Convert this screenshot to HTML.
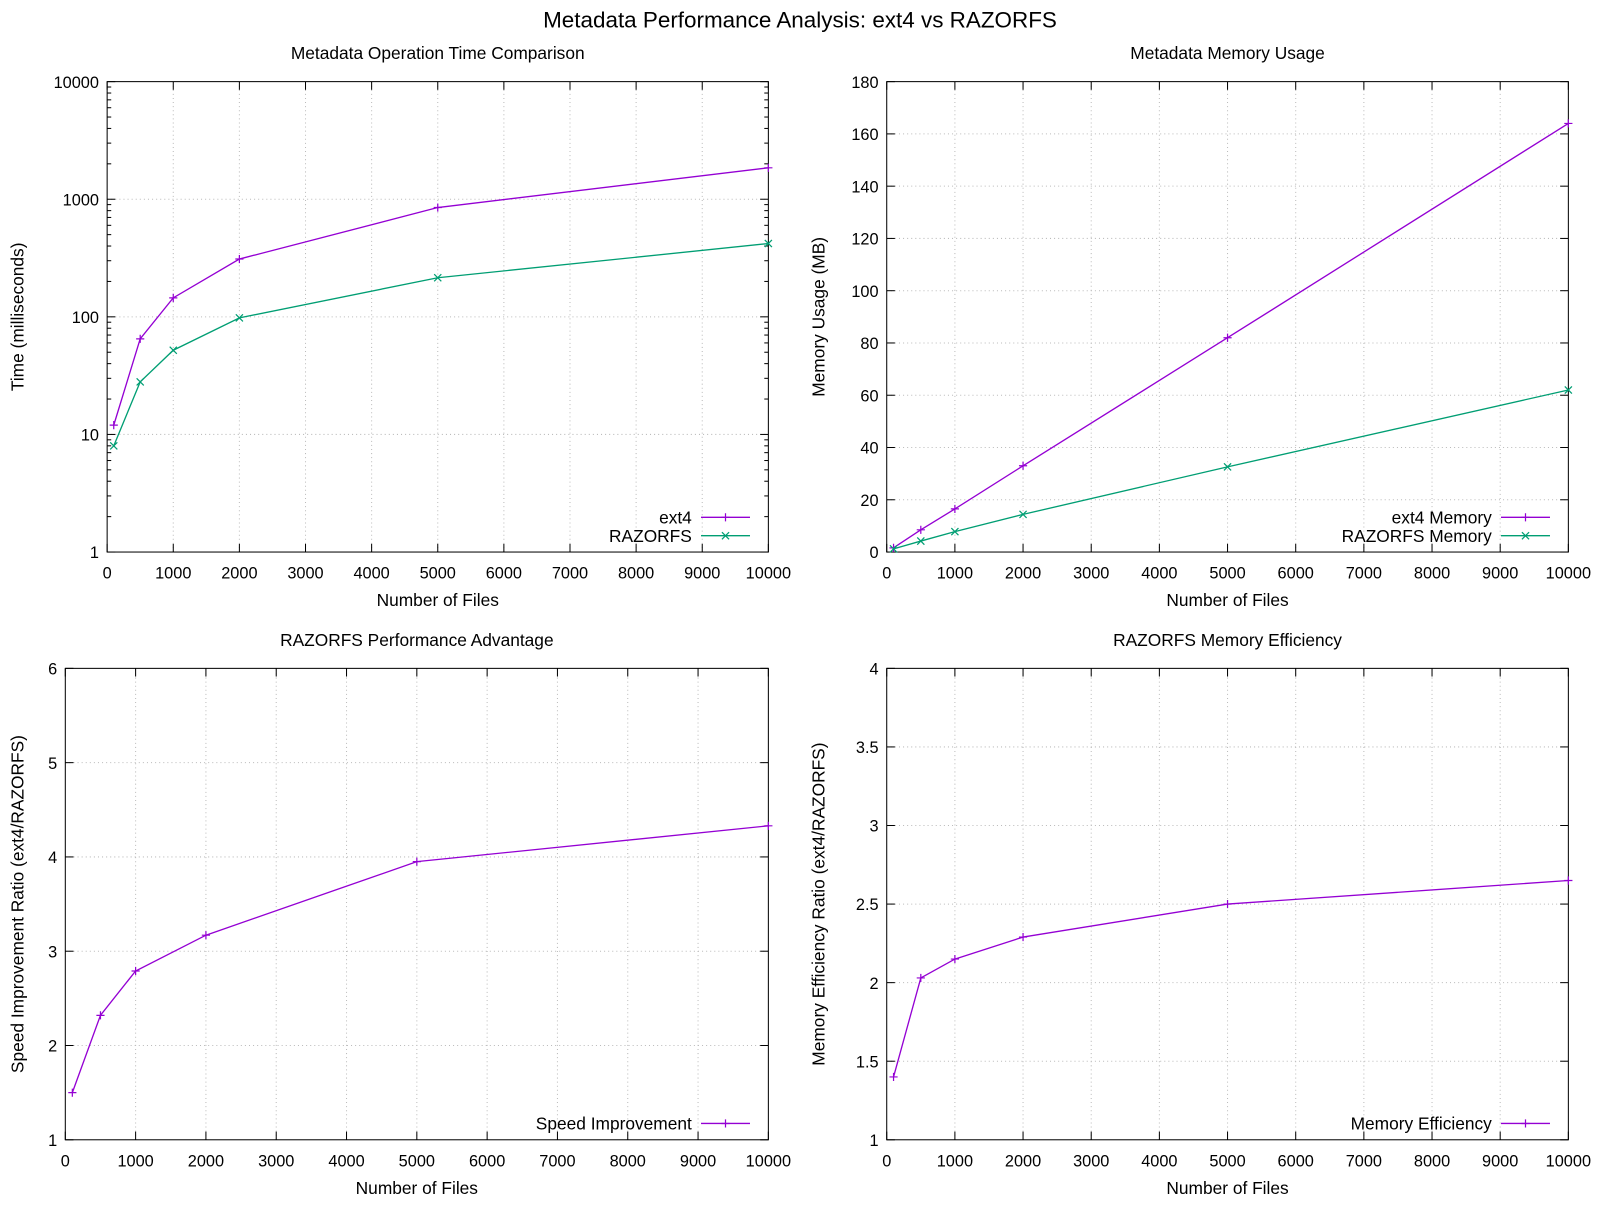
<!DOCTYPE html>
<html><head><meta charset="utf-8"><style>
body{margin:0;background:#fff}
svg text{font-family:"Liberation Sans",sans-serif;fill:#000}
</style></head><body>
<svg width="1600" height="1200" xmlns="http://www.w3.org/2000/svg">
<rect width="1600" height="1200" fill="#fff"/>
<g id="s" transform="scale(1.0204)">
<text x="784" y="27" font-size="22" text-anchor="middle">Metadata Performance Analysis: ext4 vs RAZORFS</text>
</g>
</svg>
<script>
const files=[100,500,1000,2000,5000,10000];
const ext4Time=[12,65,145,310,850,1850];
const razorTime=[8,28,52,98,215,420];
const ext4Mem=[1.6,8.5,16.5,33,82,164];
const razorMem=[1.2,4.2,7.8,14.4,32.6,62];
const speedRatio=[1.5,2.32,2.79,3.17,3.95,4.33];
const memRatio=[1.4,2.03,2.15,2.29,2.5,2.65];
const xTicks=[0,1000,2000,3000,4000,5000,6000,7000,8000,9000,10000];
const logTicks=[1,10,100,1000,10000];
const memTicks=[0,20,40,60,80,100,120,140,160,180];
const speedTicks=[1,2,3,4,5,6];
const effTicks=[1,1.5,2,2.5,3,3.5,4];
const NS="http://www.w3.org/2000/svg";
const svg=document.getElementById('s');
function mk(t,a,p){const e=document.createElementNS(NS,t);for(const k in a)e.setAttribute(k,a[k]);(p||svg).appendChild(e);return e;}
function panel(o){
  const g=mk('g',{});
  
  
  const X=v=>o.x0+(v-0)/10000*(o.x1-o.x0);
  const Y=o.log?(v=>o.y0-(Math.log10(v)-0)/4*(o.y0-o.y1)):(v=>o.y0-(v-o.ymin)/(o.ymax-o.ymin)*(o.y0-o.y1));
  xTicks.forEach(t=>{const x=X(t);
    if(t>0&&t<10000){const l=mk('line',{x1:x,x2:x,y1:o.y0,y2:o.y1,stroke:'#bbb','stroke-dasharray':'1,3'},g);}
    mk('line',{x1:x,x2:x,y1:o.y0,y2:o.y0-8,stroke:'#000'},g);mk('line',{x1:x,x2:x,y1:o.y1,y2:o.y1+8,stroke:'#000'},g);
    const tx=mk('text',{x:x,y:o.y0+26,'font-size':16,'text-anchor':'middle'},g);tx.textContent=t;
    });
  o.ticks.forEach(t=>{const y=Y(t);
    if(y<o.y0-1&&y>o.y1+1){const l=mk('line',{x1:o.x0,x2:o.x1,y1:y,y2:y,stroke:'#bbb','stroke-dasharray':'1,3'},g);}
    mk('line',{x1:o.x0,x2:o.x0+8,y1:y,y2:y,stroke:'#000'},g);mk('line',{x1:o.x1,x2:o.x1-8,y1:y,y2:y,stroke:'#000'},g);
    const tx=mk('text',{x:o.x0-8,y:y+6,'font-size':16,'text-anchor':'end'},g);tx.textContent=t;
    });
  if(o.log){for(let d=0;d<4;d++)for(let m=2;m<10;m++){const y=Y(m*Math.pow(10,d));mk('line',{x1:o.x0,x2:o.x0+4,y1:y,y2:y,stroke:'#000'},g);mk('line',{x1:o.x1,x2:o.x1-4,y1:y,y2:y,stroke:'#000'},g);}}
  const fr=mk('rect',{x:o.x0,y:o.y1,width:o.x1-o.x0,height:o.y0-o.y1,fill:'none',stroke:'#000'},g);
  
  const tt=mk('text',{x:(o.x0+o.x1)/2,y:o.y1-22,'font-size':17,'text-anchor':'middle'},g);tt.textContent=o.title;
  
  const xl=mk('text',{x:(o.x0+o.x1)/2,y:o.y0+53,'font-size':17,'text-anchor':'middle'},g);xl.textContent='Number of Files';
  
  const yx=o.ylx,yy=(o.y0+o.y1)/2;
  const yl=mk('text',{x:yx,y:yy,'font-size':17,'text-anchor':'middle',transform:`rotate(-90 ${yx} ${yy})`},g);yl.textContent=o.ylabel;
  
  o.series.forEach((s,i)=>{
    const pts=files.map((f,j)=>[X(f),Y(s.v[j])]);
    const pl=mk('polyline',{points:pts.map(p=>p.join(',')).join(' '),fill:'none',stroke:s.c,'stroke-width':1.3},g);
    
    pts.forEach(p=>mark(g,p[0],p[1],s));
    const lyy=o.legY+i*18;
    const lt=mk('text',{x:o.x1-75,y:lyy+6,'font-size':17,'text-anchor':'end'},g);lt.textContent=s.n;
    
    mk('line',{x1:o.x1-66,x2:o.x1-18,y1:lyy,y2:lyy,stroke:s.c,'stroke-width':1.3},g);
    mark(g,o.x1-42,lyy,s);
  });
}
function mark(g,x,y,s){
  if(s.m==='+'){mk('path',{d:`M${x-4} ${y}H${x+4}M${x} ${y-4}V${y+4}`,stroke:s.c,'stroke-width':1.2},g);}
  else{mk('path',{d:`M${x-3.5} ${y-3.5}L${x+3.5} ${y+3.5}M${x-3.5} ${y+3.5}L${x+3.5} ${y-3.5}`,stroke:s.c,'stroke-width':1.2},g);}
}
const P='#9400d3',G='#009e73';
panel({name:'time-panel',x0:105,x1:753,y0:541,y1:80,log:true,ticks:logTicks,title:'Metadata Operation Time Comparison',ylabel:'Time (milliseconds)',ylx:23,legY:507,
 series:[{n:'ext4',v:ext4Time,c:P,m:'+'},{n:'RAZORFS',v:razorTime,c:G,m:'x'}]});
panel({name:'memory-panel',x0:869,x1:1537,y0:541,y1:80,ymin:0,ymax:180,ticks:memTicks,title:'Metadata Memory Usage',ylabel:'Memory Usage (MB)',ylx:808,legY:507,
 series:[{n:'ext4 Memory',v:ext4Mem,c:P,m:'+'},{n:'RAZORFS Memory',v:razorMem,c:G,m:'x'}]});
panel({name:'speed-panel',x0:64,x1:753,y0:1117,y1:655,ymin:1,ymax:6,ticks:speedTicks,title:'RAZORFS Performance Advantage',ylabel:'Speed Improvement Ratio (ext4/RAZORFS)',ylx:23,legY:1101,
 series:[{n:'Speed Improvement',v:speedRatio,c:P,m:'+'}]});
panel({name:'efficiency-panel',x0:869,x1:1537,y0:1117,y1:655,ymin:1,ymax:4,ticks:effTicks,title:'RAZORFS Memory Efficiency',ylabel:'Memory Efficiency Ratio (ext4/RAZORFS)',ylx:808,legY:1101,
 series:[{n:'Memory Efficiency',v:memRatio,c:P,m:'+'}]});
</script>
</body></html>
